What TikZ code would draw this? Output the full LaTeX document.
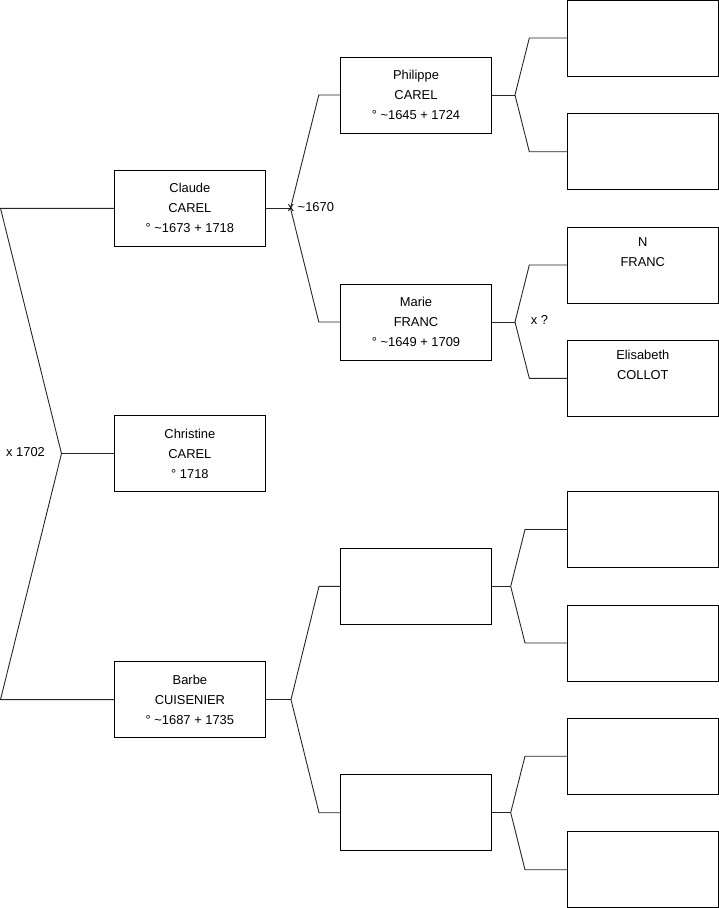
\documentclass[tikz,border=0pt]{standalone}
\usepackage{fontspec}
\setmainfont{Liberation Sans}
\begin{document}
\begin{tikzpicture}[x=1pt,y=-1pt,
  person/.style={draw=black,line width=0.9pt,minimum width=151pt,minimum height=76pt,inner sep=0pt,align=center,font=\fontsize{12.9}{20}\selectfont},
  link/.style={draw=black!85,line width=0.9pt},
  lbl/.style={font=\fontsize{12.9}{14}\selectfont,inner sep=0pt}]
\useasboundingbox (0,0) rectangle (719,908);
% generation 1
\node[person] (claude) at (189.9,208.3) {Claude\\CAREL\\° \textasciitilde1673 + 1718};
\node[person] (christine) at (189.9,453.5) {Christine\\CAREL\\° 1718};
\node[person] (barbe) at (189.9,699.6) {Barbe\\CUISENIER\\° \textasciitilde1687 + 1735};
% generation 2
\node[person] (philippe) at (416,95) {Philippe\\CAREL\\° \textasciitilde1645 + 1724};
\node[person] (marie) at (416,322) {Marie\\FRANC\\° \textasciitilde1649 + 1709};
\node[person] (e1) at (416,586.3) {};
\node[person] (e2) at (416,812.7) {};
% generation 3
\node[person] (r1) at (642.8,38) {};
\node[person] (r2) at (642.8,151.7) {};
\node[person] (r3) at (642.8,265) {N\\FRANC\\\strut};
\node[person] (r4) at (642.8,378.3) {Elisabeth\\COLLOT\\\strut};
\node[person] (r5) at (642.8,529.5) {};
\node[person] (r6) at (642.8,643) {};
\node[person] (r7) at (642.8,756.2) {};
\node[person] (r8) at (642.8,869.7) {};
% fork points
\coordinate (rt) at (0.5,208.3);
\coordinate (rm) at (61.5,453.5);
\coordinate (rb) at (0.5,699.6);
\coordinate (cf) at (290.5,208.3);
\coordinate (cft) at (318.8,95);
\coordinate (cfb) at (318.8,322);
\coordinate (bf) at (291,699.6);
\coordinate (bft) at (319,586.3);
\coordinate (bfb) at (319,812.7);
\coordinate (pf) at (515,95);
\coordinate (pft) at (529.3,38);
\coordinate (pfb) at (529.3,151.7);
\coordinate (mf) at (515,322);
\coordinate (mft) at (529.3,265);
\coordinate (mfb) at (529.3,378.3);
\coordinate (af) at (510.7,586.3);
\coordinate (aft) at (525,529.5);
\coordinate (afb) at (525,643);
\coordinate (bbf) at (510.7,812.7);
\coordinate (bbft) at (525,756.2);
\coordinate (bbfb) at (525,869.7);
% connectors
\draw[link] (claude.west) -- (rt) -- (rm) -- (rb) -- (barbe.west);
\draw[link] (rm) -- (christine.west);
\draw[link] (claude.east) -- (cf);
\draw[link] (philippe.west) -- (cft) -- (cf) -- (cfb) -- (marie.west);
\draw[link] (barbe.east) -- (bf);
\draw[link] (e1.west) -- (bft) -- (bf) -- (bfb) -- (e2.west);
\draw[link] (philippe.east) -- (pf);
\draw[link] (r1.west) -- (pft) -- (pf) -- (pfb) -- (r2.west);
\draw[link] (marie.east) -- (mf);
\draw[link] (r3.west) -- (mft) -- (mf) -- (mfb) -- (r4.west);
\draw[link] (e1.east) -- (af);
\draw[link] (r5.west) -- (aft) -- (af) -- (afb) -- (r6.west);
\draw[link] (e2.east) -- (bbf);
\draw[link] (r7.west) -- (bbft) -- (bbf) -- (bbfb) -- (r8.west);
% labels
\node[lbl,anchor=west] (l1670) at (287.5,207.3) {x \textasciitilde1670};
\node[lbl] (l1702) at (25.5,451.8) {x 1702};
\node[lbl] (lq) at (539.5,319.8) {x ?};
\end{tikzpicture}
\end{document}
